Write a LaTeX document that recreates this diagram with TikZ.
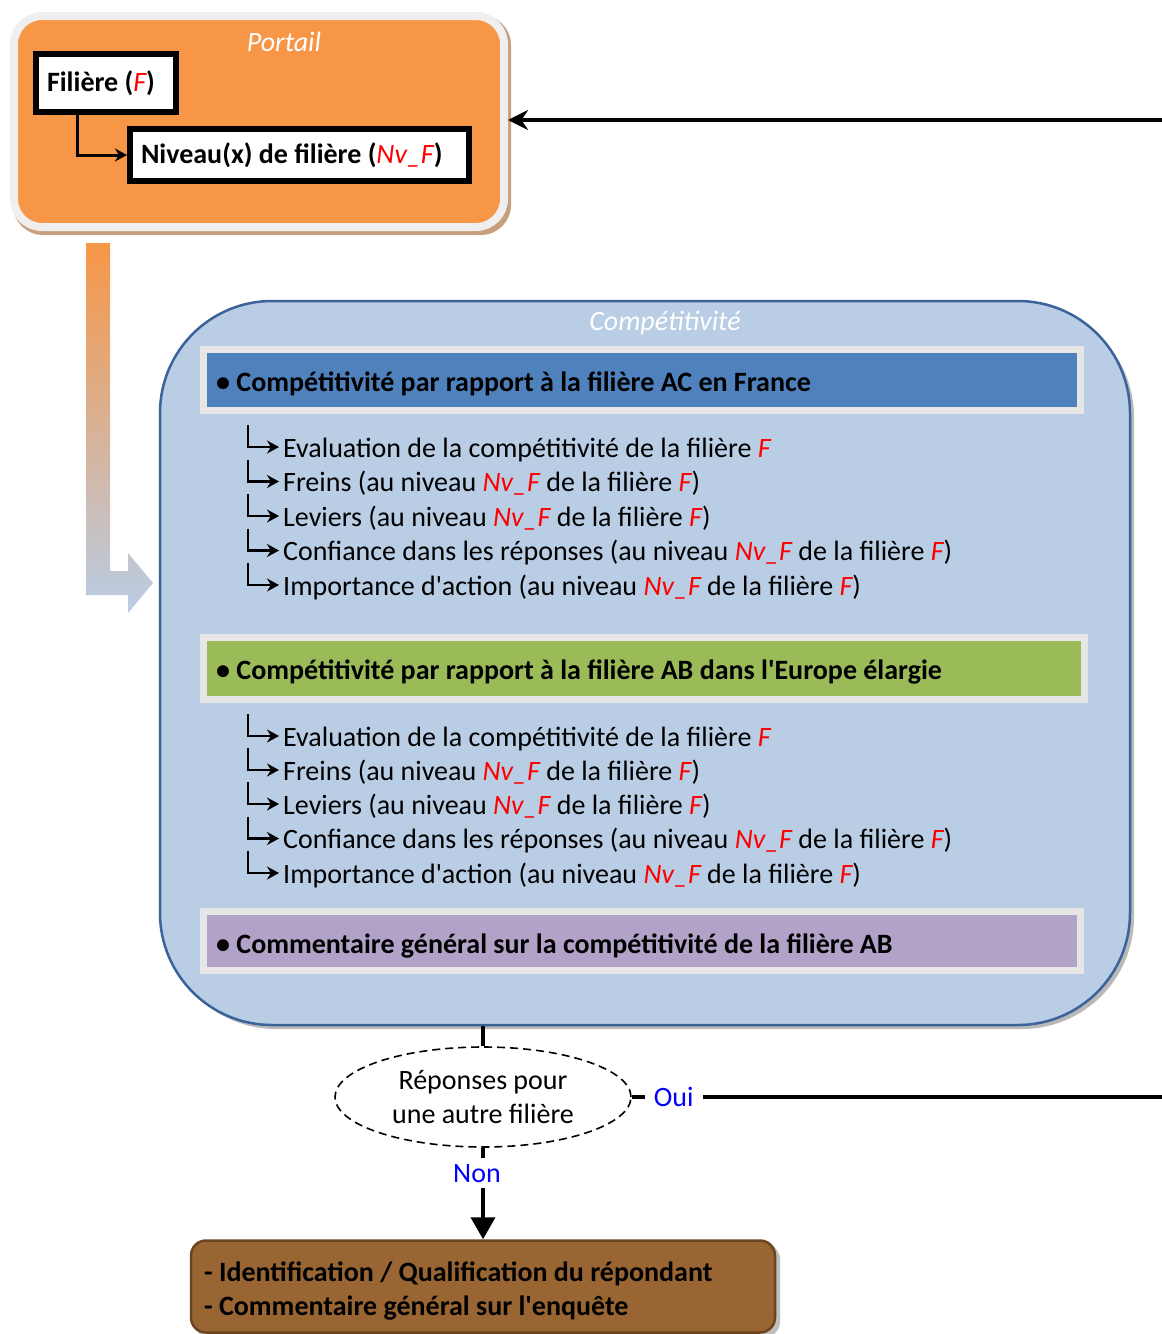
\documentclass[tikz,border=0pt]{standalone}
\usepackage{fontspec}
\setmainfont{Carlito}[Ligatures=TeXOff]
\usetikzlibrary{arrows.meta,shapes.geometric,calc}
\definecolor{orangeP}{HTML}{F79646}
\definecolor{portborder}{HTML}{EFEFEF}
\definecolor{tanshadow}{HTML}{C9A07E}
\definecolor{compfill}{HTML}{B9CDE5}
\definecolor{compborder}{HTML}{3B6399}
\definecolor{bandblue}{HTML}{4F81BD}
\definecolor{bandgreen}{HTML}{9BBB59}
\definecolor{bandpurple}{HTML}{B2A2C7}
\definecolor{bandedge}{HTML}{E6E6E6}
\definecolor{brownbox}{HTML}{996633}
\definecolor{brownedge}{HTML}{6B4522}
\newcommand{\rF}{\textcolor{red}{\mdseries\itshape F}}
\newcommand{\rNv}{\textcolor{red}{\mdseries\itshape Nv\_F}}
\newcommand{\myfs}{\fontsize{28}{34}\selectfont}
\tikzset{
  wbox/.style={draw=black, fill=white, line width=6pt, inner xsep=11pt, inner ysep=0pt, align=flush left, font=\myfs\bfseries, anchor=north west},
  band/.style={rectangle, draw=bandedge, line width=7pt, inner sep=0pt},
  bandtext/.style={anchor=base west, inner sep=0pt, font=\myfs\bfseries},
  item/.style={anchor=base west, inner sep=0pt, font=\myfs},
  larr/.style={line width=2.5pt, -{Stealth[length=12pt,width=13pt]}},
  conn/.style={line width=4pt},
  lbl/.style={fill=white, text=blue, inner xsep=9pt, inner ysep=6pt, font=\myfs},
  ttl/.style={text=white, font=\myfs\itshape, inner sep=0pt}
}
\begin{document}
\begin{tikzpicture}[x=1pt,y=-1pt, font=\myfs]
\useasboundingbox (0,0) rectangle (1162,1334);

% Portail
\fill[tanshadow, rounded corners=30pt] (13,15) rectangle (511,235);
\node[rectangle, rounded corners=28pt, fill=orangeP, draw=portborder, line width=8pt,
      minimum width=490pt, minimum height=211pt, inner sep=0pt] (portail) at (259,121.5) {};
\node[ttl] (portlbl) at (284,42) {Portail};
\node[wbox, text width=118pt, minimum height=58pt] (fil) at (33,51) {Filière (\rF)};
\node[wbox, text width=317pt, minimum height=52pt] (niv) at (127,126) {Niveau(x) de filière (\rNv)};
\draw[line width=3pt, -{Stealth[length=12pt,width=13pt]}] ([xshift=44pt]fil.south west) |- (niv.west);

% loop-back arrow
\coordinate (topright) at (1162,120);
\draw[conn, -{Stealth[length=20pt,width=20pt]}] (topright) -- (topright -| portail.east);

% gradient arrow
\shade[top color=orangeP, bottom color=compfill, shading angle=0]
  (86,243) -- (110,243) -- (110,571) -- (128,571) -- (128,553) -- (153,583)
  -- (128,613) -- (128,595) -- (86,595) -- cycle;

% Competitivite
\fill[gray!55, rounded corners=112pt] (164,305) rectangle (1134,1029);
\node[rectangle, draw=compborder, fill=compfill, line width=2.5pt, rounded corners=112pt,
      minimum width=970pt, minimum height=724pt, inner sep=0pt] (comp) at (645,663) {};
\node[ttl] (comptitle) at (665,323) {Compétitivité};

\node[band, fill=bandblue, minimum width=877pt, minimum height=61pt] (band1) at (642,380) {};
\node[bandtext] (band1t) at (216,391) {• Compétitivité par rapport à la filière AC en France};
\node[band, fill=bandgreen, minimum width=881pt, minimum height=62pt] (band2) at (644,668.5) {};
\node[bandtext] (band2t) at (216,679) {• Compétitivité par rapport à la filière AB dans l'Europe élargie};
\node[band, fill=bandpurple, minimum width=877pt, minimum height=59pt] (band3) at (642,941) {};
\node[bandtext] (band3t) at (216,953) {• Commentaire général sur la compétitivité de la filière AB};

\node[item] (a1) at (283,457) {Evaluation de la compétitivité de la filière \rF};
\node[item] (a2) at (283,491.5) {Freins (au niveau \rNv{} de la filière \rF)};
\node[item] (a3) at (283,526) {Leviers (au niveau \rNv{} de la filière \rF)};
\node[item] (a4) at (283,560.5) {Confiance dans les réponses (au niveau \rNv{} de la filière \rF)};
\node[item] (a5) at (283,595) {Importance d'action (au niveau \rNv{} de la filière \rF)};

\node[item] (b1) at (283,746) {Evaluation de la compétitivité de la filière \rF};
\node[item] (b2) at (283,780) {Freins (au niveau \rNv{} de la filière \rF)};
\node[item] (b3) at (283,814) {Leviers (au niveau \rNv{} de la filière \rF)};
\node[item] (b4) at (283,848.5) {Confiance dans les réponses (au niveau \rNv{} de la filière \rF)};
\node[item] (b5) at (283,883) {Importance d'action (au niveau \rNv{} de la filière \rF)};

\foreach \n in {a1,a2,a3,a4,a5,b1,b2,b3,b4,b5}
  \draw[larr] ([xshift=-35pt,yshift=32pt]\n.base west) |- ([xshift=-4pt,yshift=10pt]\n.base west);

% decision
\node[ellipse, draw, dashed, dash pattern=on 8pt off 5pt, line width=1.6pt, minimum width=296pt,
      minimum height=100pt, align=center, inner sep=0pt] (dec) at (483,1097) {Réponses pour\\une autre filière};
\draw[conn] (dec.north |- comp.south) -- (dec.north);
\coordinate (ouiend) at (1162,1097);
\draw[conn] (dec.east) -- node[lbl, pos=0.079] (oui) {Oui} (ouiend);

% bottom box
\fill[gray!50, rounded corners=15pt] (194,1244) rectangle (780,1337);
\node[rectangle, draw=brownedge, fill=brownbox, line width=2.5pt, rounded corners=15pt,
      minimum width=584pt, minimum height=92pt, inner sep=0pt] (bot) at (483,1286.5) {};
\node[anchor=west, align=flush left, inner sep=0pt, font=\myfs\bfseries] (bottext) at (204,1291)
  {- Identification / Qualification du répondant\\- Commentaire général sur l'enquête};
\draw[conn, -{Triangle[length=22pt,width=24pt]}] (dec.south) -- node[lbl, pos=0.28, xshift=-6pt, inner xsep=4pt] (non) {Non} (bot.north);
\end{tikzpicture}
\end{document}
